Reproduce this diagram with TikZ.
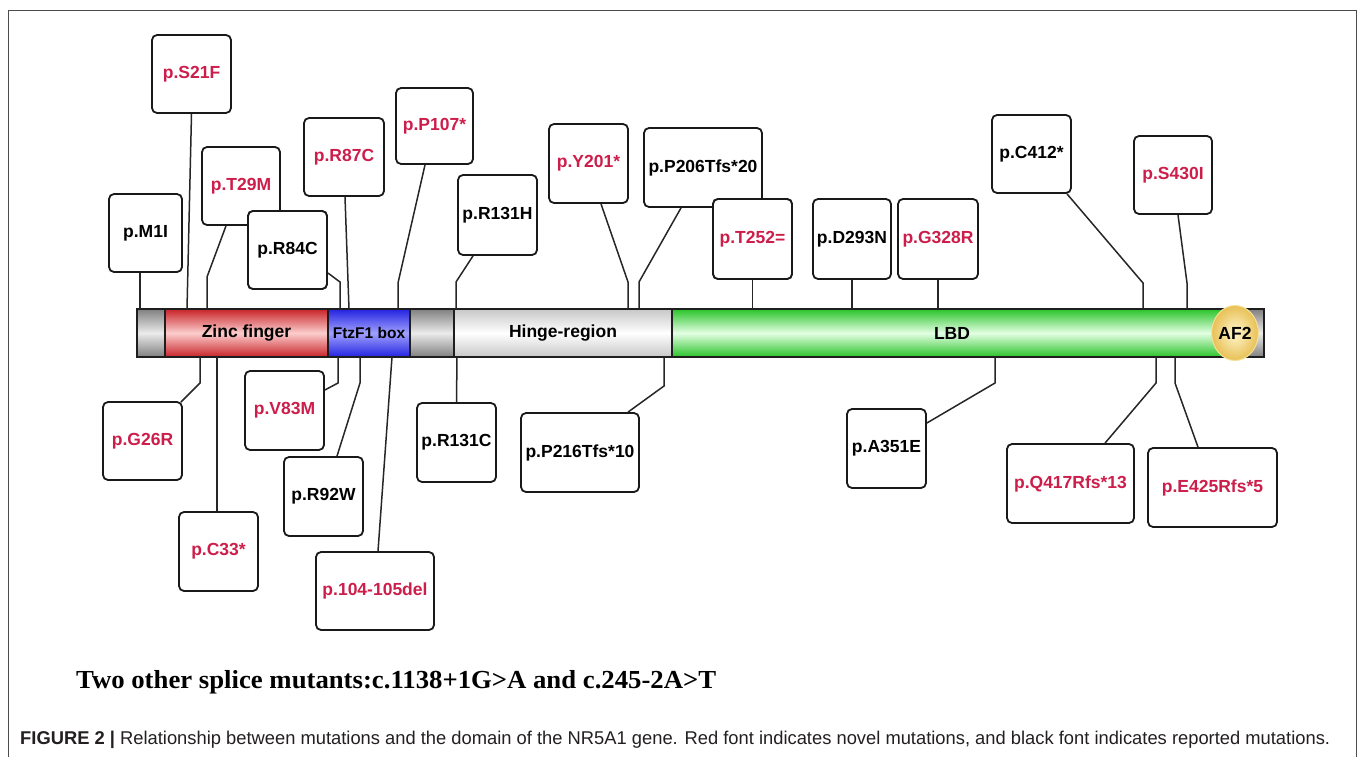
\documentclass[tikz,border=0pt]{standalone}
\usepackage{fontspec}
\usepackage{graphicx}
\setmainfont{Liberation Sans}
\newfontfamily\splicefont{Liberation Serif}
\usetikzlibrary{shapes.geometric}
\definecolor{mutred}{RGB}{205,30,75}
\definecolor{segline}{RGB}{30,30,30}
\begin{document}
\begin{tikzpicture}[x=1pt,y=-1pt,
  lbl/.style={font=\fontsize{17.5}{20}\selectfont\bfseries},
  mbox/.style={lbl, draw=black!90, line width=1.8pt, rounded corners=5pt, fill=white, inner sep=0pt},
  nov/.style={mbox, text=mutred},
  rep/.style={mbox, text=black},
  sz/.style 2 args={minimum width=#1pt, minimum height=#2pt},
  conn/.style={line width=1.5pt, black!85},
  seg/.style={lbl, draw=segline, line width=1.4pt, inner sep=0pt, minimum height=48pt},
]
\useasboundingbox (0,0) rectangle (1357,757);
\draw[black!70, line width=1pt] (8,757) -- (8,11) -- (1356,11) -- (1356,757);

% ---------- bar ----------
\node[seg, minimum width=40pt, top color=black!50, bottom color=black!50, middle color=black!8] (g3) at (1244,333) {};
\node[seg, minimum width=28pt, top color=black!50, bottom color=black!50, middle color=black!8] (g1) at (151,333) {};
\node[seg, minimum width=163pt, top color={rgb,255:red,200;green,35;blue,40}, bottom color={rgb,255:red,200;green,35;blue,40}, middle color={rgb,255:red,252;green,205;blue,205}] (zf) at (246.5,333) {Zinc finger};
\node[seg, minimum width=82pt, top color={rgb,255:red,35;green,35;blue,225}, bottom color={rgb,255:red,35;green,35;blue,225}, middle color={rgb,255:red,160;green,160;blue,255}] (ftz) at (369,333) {\fontsize{15.5}{18}\selectfont FtzF1 box};
\node[seg, minimum width=44pt, top color=black!50, bottom color=black!50, middle color=black!8] (g2) at (432,333) {};
\node[seg, minimum width=218pt, top color=black!22, bottom color=black!22, middle color=white] (hinge) at (563,333) {Hinge-region};
\node[seg, minimum width=560pt, top color={rgb,255:red,40;green,195;blue,40}, bottom color={rgb,255:red,40;green,195;blue,40}, middle color={rgb,255:red,228;green,255;blue,228}] (lbd) at (952,333) {LBD};
\node[lbl, ellipse, minimum width=45pt, minimum height=55pt, inner sep=0pt, draw={rgb,255:red,245;green,225;blue,150}, line width=1pt, inner color={rgb,255:red,255;green,246;blue,205}, outer color={rgb,255:red,232;green,192;blue,85}] (af2) at (1235,333) {AF2};

% ---------- bar attachment points ----------
\coordinate (a1) at (140,309);  \coordinate (a2) at (187,309);
\coordinate (a3) at (207,309);  \coordinate (a4) at (340,309);
\coordinate (a5) at (349,309);  \coordinate (a6) at (398,309);
\coordinate (a7) at (456,309);  \coordinate (a8) at (628,309);
\coordinate (a9) at (639,309);  \coordinate (a10) at (752.5,309);
\coordinate (a11) at (852,309); \coordinate (a12) at (938,309);
\coordinate (a13) at (1143,309); \coordinate (a14) at (1187,309);
\coordinate (b1) at (200,357);  \coordinate (b2) at (217,357);
\coordinate (b3) at (338,357);  \coordinate (b4) at (360,357);
\coordinate (b5) at (392,357);  \coordinate (b6) at (457,357);
\coordinate (b7) at (664,357);  \coordinate (b8) at (995,357);
\coordinate (b9) at (1156,357); \coordinate (b10) at (1175,357);

% ---------- top boxes ----------
\node[rep, sz={73}{78}] (m1i) at (145.5,233) {p.M1I};
\node[nov, sz={79}{78}] (s21f) at (191.5,74) {p.S21F};
\node[nov, sz={78}{78}] (t29m) at (241,186) {p.T29M};
\node[rep, sz={79}{78}] (r84c) at (287.5,250) {p.R84C};
\node[nov, sz={80}{78}] (r87c) at (344,157) {p.R87C};
\node[nov, sz={77}{76}] (p107) at (434.5,126) {p.P107*};
\node[rep, sz={79}{80}] (r131h) at (497.5,215) {p.R131H};
\node[nov, sz={79}{79}] (y201) at (588.5,163.5) {p.Y201*};
\node[rep, sz={118}{79}] (p206) at (703,167.5) {p.P206Tfs*20};
\node[nov, sz={79}{80}] (t252) at (752.5,239) {p.T252=};
\node[rep, sz={78}{80}] (d293n) at (852,239) {p.D293N};
\node[nov, sz={80}{80}] (g328r) at (938,239) {p.G328R};
\node[rep, sz={79}{78}] (c412) at (1031.5,154) {p.C412*};
\node[nov, sz={78}{78}] (s430i) at (1173,175) {p.S430I};

% ---------- bottom boxes ----------
\node[nov, sz={79}{78}] (g26r) at (142.5,441) {p.G26R};
\node[nov, sz={79}{79}] (c33) at (218.5,551.5) {p.C33*};
\node[nov, sz={79}{79}] (v83m) at (284.5,410.5) {p.V83M};
\node[rep, sz={79}{79}] (r92w) at (323.5,496.5) {p.R92W};
\node[nov, sz={118}{78}] (del) at (375,591) {p.104-105del};
\node[rep, sz={79}{79}] (r131c) at (456.5,442.5) {p.R131C};
\node[rep, sz={118}{79}] (p216) at (580,452.5) {p.P216Tfs*10};
\node[rep, sz={79}{79}] (a351e) at (886.5,448.5) {p.A351E};
\node[nov, sz={127}{79}] (q417) at (1070.5,483.5) {p.Q417Rfs*13};
\node[nov, sz={129}{79}] (e425) at (1212.5,487.5) {p.E425Rfs*5};

% ---------- connectors (top) ----------
\draw[conn] ([xshift=-5.5pt]m1i.south) -- (a1);
\draw[conn] (s21f.south) -- (a2);
\draw[conn] ([xshift=-15pt]t29m.south) -- (207,277) -- (a3);
\draw[conn] ([yshift=-23pt]r84c.east) -- (340,282) -- (a4);
\draw[conn] ([xshift=1pt]r87c.south) -- (a5);
\draw[conn] ([xshift=-9.5pt]p107.south) -- (398,283) -- (a6);
\draw[conn] ([xshift=-24.5pt]r131h.south) -- (456,282) -- (a7);
\draw[conn] ([xshift=12.5pt]y201.south) -- (628,282) -- (a8);
\draw[conn] ([xshift=-22pt]p206.south) -- (639,282) -- (a9);
\draw[conn] (t252.south) -- (a10);
\draw[conn] (d293n.south) -- (a11);
\draw[conn] (g328r.south) -- (a12);
\draw[conn] ([xshift=35.5pt]c412.south) -- (1143,283) -- (a13);
\draw[conn] ([xshift=5pt]s430i.south) -- (1187,283) -- (a14);

% ---------- connectors (bottom) ----------
\draw[conn] (b1) -- (200,383) -- ([xshift=-2pt,yshift=-1pt]g26r.north east);
\draw[conn] (b2) -- ([xshift=-1.5pt]c33.north);
\draw[conn] (b3) -- (338,383) -- ([yshift=20.5pt]v83m.east);
\draw[conn] (b4) -- (360,383) -- ([xshift=13.5pt]r92w.north);
\draw[conn] (b5) -- ([xshift=3pt]del.north);
\draw[conn] (b6) -- (r131c.north);
\draw[conn] (b7) -- (664,386) -- ([xshift=48pt]p216.north);
\draw[conn] (b8) -- (995,383) -- ([yshift=25.5pt]a351e.east);
\draw[conn] (b9) -- (1156,383) -- ([xshift=34.5pt]q417.north);
\draw[conn] (b10) -- (1175,383) -- ([xshift=-14.5pt]e425.north);

% redraw overlapping boxes on top
\node[rep, sz={79}{78}] at (287.5,250) {p.R84C};
\node[nov, sz={79}{80}] at (752.5,239) {p.T252=};

% ---------- texts ----------
\node[anchor=base west, inner sep=0pt] (splice) at (76,688)
  {\resizebox{640pt}{\height}{\splicefont\fontsize{26}{29}\selectfont\bfseries Two other splice mutants:c.1138+1G>A and c.245-2A>T}};
\node[anchor=base west, inner sep=0pt, text={rgb,255:red,35;green,31;blue,32}] (caption) at (20,744)
  {\resizebox{1310pt}{\height}{\fontsize{18.5}{21}\selectfont\textbf{FIGURE 2 |} Relationship between mutations and the domain of the NR5A1 gene. Red font indicates novel mutations, and black font indicates reported mutations.}};
\end{tikzpicture}
\end{document}
